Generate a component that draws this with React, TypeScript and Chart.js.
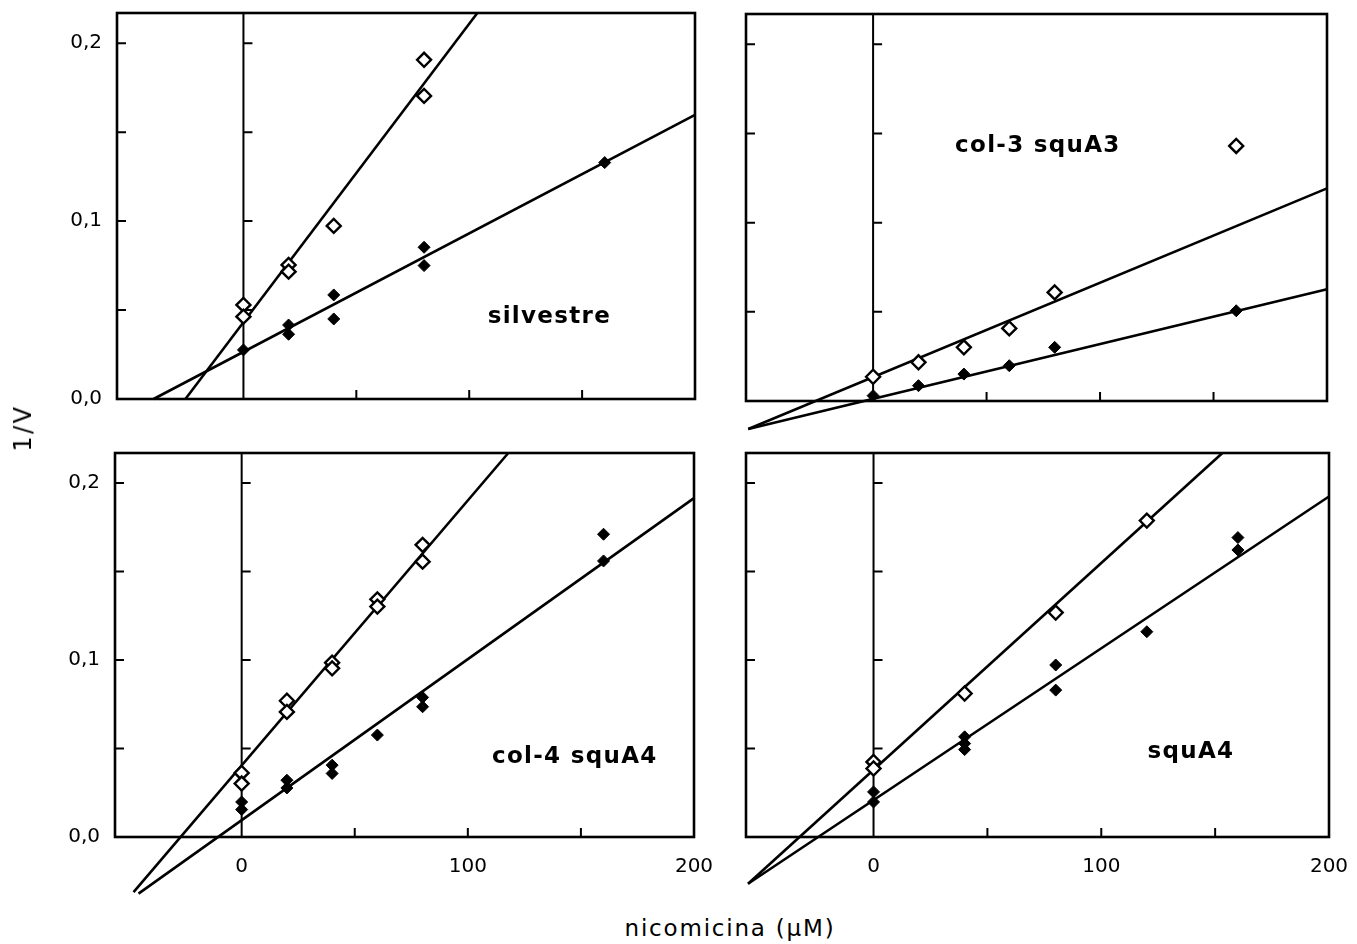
import React, { useEffect, useRef } from "react";
import { Chart, registerables } from "chart.js";

Chart.register(...registerables);

// ---- axis ticks ----
const X_TICKS = [0, 50, 100, 150, 200];
const X_TICK_LABELS = ["0", "", "100", "", "200"];
const Y_TICKS = [0, 0.05, 0.1, 0.15, 0.2];
const Y_TICK_LABELS = ["0,0", "", "0,1", "", "0,2"];

// ---- silvestre ----
const silvestreOpenX = [0, 0, 20, 20, 40, 80, 80];
const silvestreOpenY = [0.0529, 0.0463, 0.0754, 0.0716, 0.0973, 0.1907, 0.1704];
const silvestreFilledX = [0, 20, 20, 40, 40, 80, 80, 160];
const silvestreFilledY = [0.0276, 0.0416, 0.0364, 0.0585, 0.045, 0.0853, 0.075, 0.1329];
const silvestreOpenFit = [[-25.7, 0], [103.6, 0.217]];
const silvestreFilledFit = [[-39.8, 0], [200, 0.1597]];

// ---- col-3 squA3 ----
const col3OpenX = [0, 20, 40, 60, 80, 160];
const col3OpenY = [0.0136, 0.0217, 0.0301, 0.0407, 0.0609, 0.143];
const col3FilledX = [0, 20, 40, 60, 80, 160];
const col3FilledY = [0.003, 0.0086, 0.0151, 0.0198, 0.0301, 0.0506];
const col3OpenFit = [[-55, -0.0157], [200, 0.1192]];
const col3FilledFit = [[-55, -0.0157], [200, 0.0627]];

// ---- col-4 squA4 ----
const col4OpenX = [0, 0, 20, 20, 40, 40, 60, 60, 80, 80];
const col4OpenY = [0.0362, 0.0302, 0.077, 0.0707, 0.0985, 0.0953, 0.1343, 0.1302, 0.1651, 0.1556];
const col4FilledX = [0, 0, 20, 20, 40, 40, 60, 80, 80, 160, 160];
const col4FilledY = [0.0198, 0.0155, 0.0321, 0.0277, 0.0406, 0.0359, 0.0576, 0.0789, 0.0736, 0.1711, 0.156];
const col4OpenFit = [[-47.8, -0.0311], [117.9, 0.217]];
const col4FilledFit = [[-45.6, -0.032], [200, 0.1915]];

// ---- squA4 ----
const squA4OpenX = [0, 0, 40, 80, 120];
const squA4OpenY = [0.0424, 0.0387, 0.0811, 0.1268, 0.1788];
const squA4FilledX = [0, 0, 40, 40, 40, 80, 80, 120, 160, 160];
const squA4FilledY = [0.0255, 0.0198, 0.0566, 0.0528, 0.0494, 0.0972, 0.083, 0.116, 0.1692, 0.1622];
const squA4OpenFit = [[-55.1, -0.0264], [153.2, 0.217]];
const squA4FilledFit = [[-55.1, -0.0264], [200, 0.1924]];

const X_MIN = -56;
const X_MAX = 200;
const Y_MIN = 0;
const Y_MAX = 0.217;

const FONT = "'DejaVu Sans', 'Noto Sans', sans-serif";

// canvas margin around each plot frame
const M = { left: 100, top: 10, right: 25, bottom: 62 };
// space given to the tick-label boxes inside those margins
const Y_AXIS_W = 80;
const X_AXIS_H = 50;

type Rect = { left: number; top: number; right: number; bottom: number };

interface PanelSpec {
  title: string;
  titleX: number;
  titleY: number;
  rect: Rect;
  openX: number[];
  openY: number[];
  filledX: number[];
  filledY: number[];
  openFit: number[][];
  filledFit: number[][];
  yLabels: boolean;
  xLabels: boolean;
}

const PANELS: PanelSpec[] = [
  {
    title: "silvestre", titleX: 135.5, titleY: 0.0427,
    rect: { left: 117, top: 13, right: 695, bottom: 399 },
    openX: silvestreOpenX, openY: silvestreOpenY,
    filledX: silvestreFilledX, filledY: silvestreFilledY,
    openFit: silvestreOpenFit, filledFit: silvestreFilledFit,
    yLabels: true, xLabels: false,
  },
  {
    title: "col-3 squA3", titleX: 72.6, titleY: 0.1397,
    rect: { left: 746, top: 14, right: 1327, bottom: 401 },
    openX: col3OpenX, openY: col3OpenY,
    filledX: col3FilledX, filledY: col3FilledY,
    openFit: col3OpenFit, filledFit: col3FilledFit,
    yLabels: false, xLabels: false,
  },
  {
    title: "col-4 squA4", titleX: 147.3, titleY: 0.0418,
    rect: { left: 115, top: 453, right: 694, bottom: 837 },
    openX: col4OpenX, openY: col4OpenY,
    filledX: col4FilledX, filledY: col4FilledY,
    openFit: col4OpenFit, filledFit: col4FilledFit,
    yLabels: true, xLabels: true,
  },
  {
    title: "squA4", titleX: 139.4, titleY: 0.0446,
    rect: { left: 746, top: 453, right: 1329, bottom: 837 },
    openX: squA4OpenX, openY: squA4OpenY,
    filledX: squA4FilledX, filledY: squA4FilledY,
    openFit: squA4OpenFit, filledFit: squA4FilledFit,
    yLabels: false, xLabels: true,
  },
];

function toPoints(xs: number[], ys: number[]) {
  return xs.map((x, i) => ({ x, y: ys[i] }));
}

function fixBox(s: any, horizontal: boolean) {
  if (horizontal) s.height = X_AXIS_H;
  else s.width = Y_AXIS_W;
  s.paddingLeft = 0;
  s.paddingRight = 0;
  s.paddingTop = 0;
  s.paddingBottom = 0;
}

function Panel({ spec }: { spec: PanelSpec }) {
  const ref = useRef<HTMLCanvasElement>(null);
  const { rect } = spec;
  const W = M.left + (rect.right - rect.left) + M.right;
  const H = M.top + (rect.bottom - rect.top) + M.bottom;

  useEffect(() => {
    const canvas = ref.current;
    if (!canvas) return;

    const framePlugin = {
      id: "frame",
      beforeDatasetsDraw(chart: any) {
        const { ctx, chartArea: a, scales } = chart;
        const xs = scales.x;
        const ys = scales.y;
        ctx.save();
        ctx.strokeStyle = "#000";
        ctx.lineCap = "butt";
        ctx.lineWidth = 2.6;
        ctx.strokeRect(a.left, a.top, a.right - a.left, a.bottom - a.top);
        const x0 = xs.getPixelForValue(0);
        ctx.lineWidth = 2;
        ctx.beginPath();
        ctx.moveTo(x0, a.top);
        ctx.lineTo(x0, a.bottom);
        ctx.stroke();
        ctx.beginPath();
        for (const v of Y_TICKS) {
          if (v <= 0) continue;
          const py = ys.getPixelForValue(v);
          ctx.moveTo(a.left, py);
          ctx.lineTo(a.left + 9, py);
          ctx.moveTo(x0, py);
          ctx.lineTo(x0 + 9, py);
        }
        for (const v of X_TICKS) {
          if (v <= 0 || v >= X_MAX) continue;
          const px = xs.getPixelForValue(v);
          ctx.moveTo(px, a.bottom);
          ctx.lineTo(px, a.bottom - 9);
        }
        ctx.stroke();
        ctx.restore();
      },
      afterDatasetsDraw(chart: any) {
        const { ctx, scales } = chart;
        ctx.save();
        ctx.fillStyle = "#000";
        ctx.font = `bold 23px ${FONT}`;
        (ctx as any).letterSpacing = "1.3px";
        ctx.textAlign = "center";
        ctx.textBaseline = "alphabetic";
        ctx.fillText(
          spec.title,
          scales.x.getPixelForValue(spec.titleX),
          scales.y.getPixelForValue(spec.titleY)
        );
        ctx.restore();
      },
    };

    const chart = new Chart(canvas, {
      type: "scatter",
      data: {
        datasets: [
          {
            label: "open",
            data: toPoints(spec.openX, spec.openY),
            pointStyle: "rectRot",
            pointRadius: 7,
            pointBackgroundColor: "#fff",
            pointBorderColor: "#000",
            pointBorderWidth: 2.4,
            showLine: false,
            order: 1,
          },
          {
            label: "filled",
            data: toPoints(spec.filledX, spec.filledY),
            pointStyle: "rectRot",
            pointRadius: 6,
            pointBackgroundColor: "#000",
            pointBorderColor: "#000",
            pointBorderWidth: 1,
            showLine: false,
            order: 0,
          },
          {
            label: "open fit",
            data: spec.openFit.map(([x, y]) => ({ x, y })),
            showLine: true,
            pointRadius: 0,
            borderColor: "#000",
            borderWidth: 2.6,
            clip: false,
            order: 2,
          },
          {
            label: "filled fit",
            data: spec.filledFit.map(([x, y]) => ({ x, y })),
            showLine: true,
            pointRadius: 0,
            borderColor: "#000",
            borderWidth: 2.6,
            clip: false,
            order: 2,
          },
        ] as any,
      },
      options: {
        animation: false,
        responsive: false,
        devicePixelRatio: 1,
        events: [],
        layout: {
          padding: {
            left: M.left - Y_AXIS_W,
            top: M.top,
            right: M.right,
            bottom: M.bottom - X_AXIS_H,
          },
        },
        plugins: { legend: { display: false }, tooltip: { enabled: false } },
        scales: {
          x: {
            type: "linear",
            min: X_MIN,
            max: X_MAX,
            grid: { display: false, drawTicks: false },
            border: { display: false },
            afterBuildTicks: (s: any) => {
              s.ticks = X_TICKS.map((value) => ({ value }));
            },
            afterFit: (s: any) => fixBox(s, true),
            ticks: {
              display: spec.xLabels,
              autoSkip: false,
              maxRotation: 0,
              minRotation: 0,
              padding: 18,
              color: "#000",
              font: { family: FONT, size: 20 },
              callback: (_v: any, i: number) => X_TICK_LABELS[i],
            },
          },
          y: {
            type: "linear",
            min: Y_MIN,
            max: Y_MAX,
            grid: { display: false, drawTicks: false },
            border: { display: false },
            afterBuildTicks: (s: any) => {
              s.ticks = Y_TICKS.map((value) => ({ value }));
            },
            afterFit: (s: any) => fixBox(s, false),
            ticks: {
              display: spec.yLabels,
              autoSkip: false,
              padding: 15,
              color: "#000",
              font: { family: FONT, size: 20 },
              callback: (_v: any, i: number) => Y_TICK_LABELS[i],
            },
          },
        },
      } as any,
      plugins: [framePlugin],
    });

    return () => chart.destroy();
  }, [spec]);

  return (
    <canvas
      ref={ref}
      width={W}
      height={H}
      style={{
        position: "absolute",
        left: rect.left - M.left,
        top: rect.top - M.top,
        width: W,
        height: H,
      }}
    />
  );
}

export default function App() {
  return (
    <div
      style={{
        position: "absolute",
        left: 0,
        top: 0,
        width: 1357,
        height: 944,
        overflow: "hidden",
        background: "#fff",
      }}
    >
      {PANELS.map((p) => (
        <Panel key={p.title} spec={p} />
      ))}
      <div
        style={{
          position: "absolute",
          left: 23,
          top: 428,
          transform: "translate(-50%, -50%) rotate(-90deg)",
          font: `24px ${FONT}`,
          letterSpacing: "2.5px",
          whiteSpace: "nowrap",
          color: "#000",
        }}
      >
        1/V
      </div>
      <div
        style={{
          position: "absolute",
          left: 730,
          top: 928,
          transform: "translate(-50%, -50%)",
          font: `23px ${FONT}`,
          letterSpacing: "1.8px",
          whiteSpace: "nowrap",
          color: "#000",
        }}
      >
        nicomicina (μM)
      </div>
    </div>
  );
}
